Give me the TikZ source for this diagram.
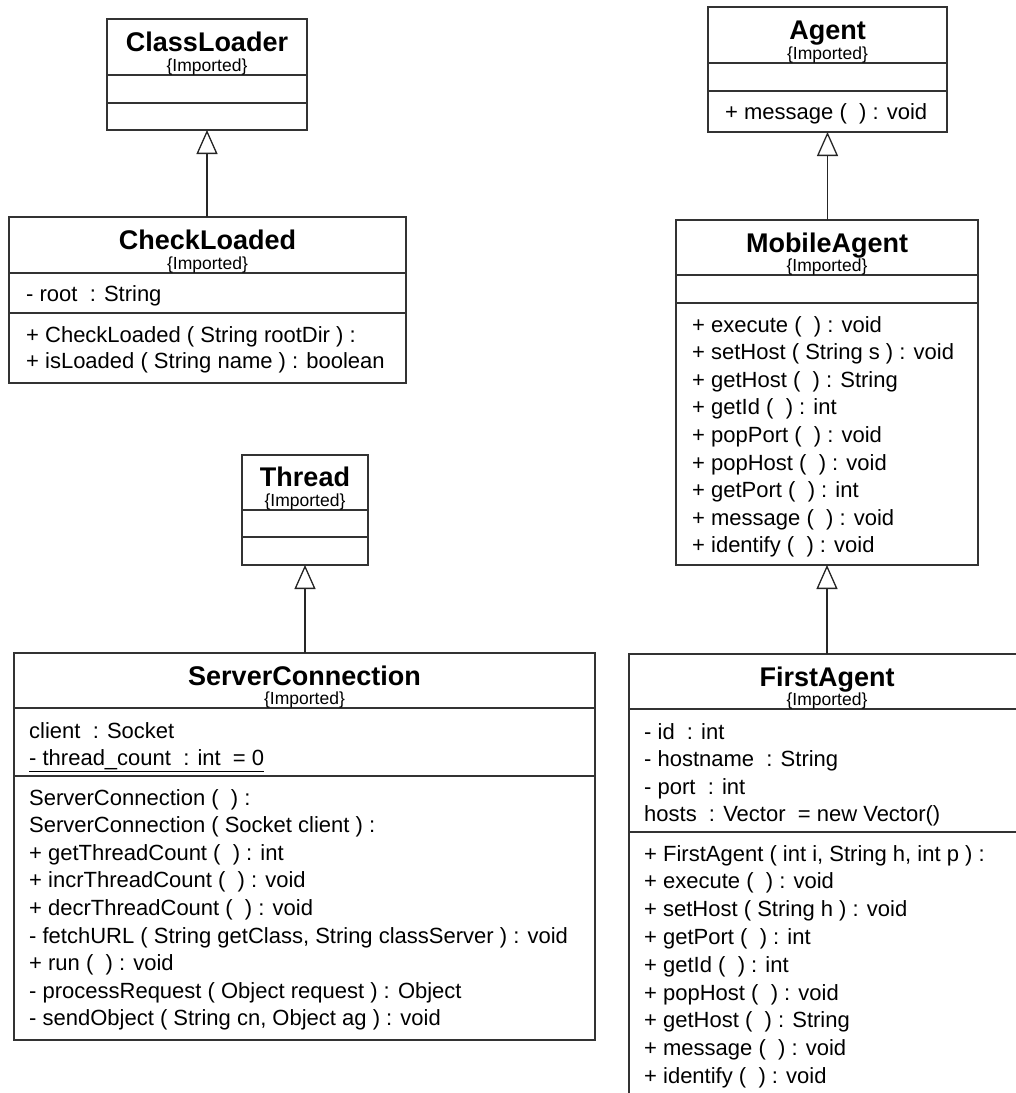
\documentclass[tikz,border=0pt]{standalone}
\usepackage{fontspec}
\setmainfont{Liberation Sans}
\usetikzlibrary{arrows.meta}
\tikzset{
  comp/.style={draw=black!80, line width=1.3pt, fill=white, inner sep=0pt, outer sep=0pt, anchor=north west},
  ttl/.style={font=\bfseries\fontsize{27}{30}\selectfont, inner sep=0pt, anchor=base},
  imp/.style={font=\fontsize{17.5}{19}\selectfont, inner sep=0pt, anchor=base},
  itm/.style={font=\fontsize{22}{26}\selectfont, inner sep=0pt, anchor=base west},
  gen/.style={draw=black!85, line width=1.3pt, -{Triangle[open, length=24pt, width=21pt, fill=white]}},
}
\begin{document}
\begin{tikzpicture}[x=1pt, y=-1pt]
\useasboundingbox (0,0) rectangle (1016,1093);
\fill[white] (0,0) rectangle (1016,1093);
\clip (0,0) rectangle (1016,1093);

% ---------- ClassLoader ----------
\node[comp, minimum width=200pt, minimum height=56pt] (cl-h) at (107,19) {};
\node[comp, minimum width=200pt, minimum height=28pt] (cl-a) at (cl-h.south west) {};
\node[comp, minimum width=200pt, minimum height=27pt] (cl-m) at (cl-a.south west) {};
\node[ttl] (cl-t) at ([yshift=-32pt]cl-h.north) {ClassLoader};
\node[imp] (cl-i) at ([yshift=4pt]cl-h.south) {\{Imported\}};

% ---------- CheckLoaded ----------
\node[comp, minimum width=397pt, minimum height=56pt] (ck-h) at (9,217) {};
\node[comp, minimum width=397pt, minimum height=40pt] (ck-a) at (ck-h.south west) {};
\node[comp, minimum width=397pt, minimum height=70pt] (ck-m) at (ck-a.south west) {};
\node[ttl] (ck-t) at ([yshift=-32pt]ck-h.north) {CheckLoaded};
\node[imp] (ck-i) at ([yshift=4pt]ck-h.south) {\{Imported\}};
\node[itm] (ck-a1) at ([xshift=17pt,yshift=-28pt]ck-a.north west) {- root\ \ : String};
\foreach \t [count=\i] in {{+ CheckLoaded ( String rootDir ) :},{+ isLoaded ( String name ) : boolean}}
  \node[itm] (ck-m\i) at ([xshift=17pt,yshift={-29-26*(\i-1)}]ck-m.north west) {\t};

% ---------- Thread ----------
\node[comp, minimum width=126pt, minimum height=55pt] (th-h) at (242,455) {};
\node[comp, minimum width=126pt, minimum height=27pt] (th-a) at (th-h.south west) {};
\node[comp, minimum width=126pt, minimum height=28pt] (th-m) at (th-a.south west) {};
\node[ttl] (th-t) at ([yshift=-31pt]th-h.north) {Thread};
\node[imp] (th-i) at ([yshift=4pt]th-h.south) {\{Imported\}};

% ---------- ServerConnection ----------
\node[comp, minimum width=581pt, minimum height=55pt] (sc-h) at (14,653) {};
\node[comp, minimum width=581pt, minimum height=68pt] (sc-a) at (sc-h.south west) {};
\node[comp, minimum width=581pt, minimum height=264pt] (sc-m) at (sc-a.south west) {};
\node[ttl] (sc-t) at ([yshift=-32pt]sc-h.north) {ServerConnection};
\node[imp] (sc-i) at ([yshift=4pt]sc-h.south) {\{Imported\}};
\node[itm] (sc-a1) at ([xshift=15pt,yshift=-30pt]sc-a.north west) {client\ \ : Socket};
\node[itm] (sc-a2) at ([xshift=15pt,yshift=-57.5pt]sc-a.north west) {\underline{- thread\_count\ \ : int\ \ = 0}};
\foreach \t [count=\i] in {
  {ServerConnection (\ \ ) :},
  {ServerConnection ( Socket client ) :},
  {+ getThreadCount (\ \ ) : int},
  {+ incrThreadCount (\ \ ) : void},
  {+ decrThreadCount (\ \ ) : void},
  {- fetchURL ( String getClass, String classServer ) : void},
  {+ run (\ \ ) : void},
  {- processRequest ( Object request ) : Object},
  {- sendObject ( String cn, Object ag ) : void}}
  \node[itm] (sc-m\i) at ([xshift=15pt,yshift={-29-27.6*(\i-1)}]sc-m.north west) {\t};

% ---------- Agent ----------
\node[comp, minimum width=239pt, minimum height=56pt] (ag-h) at (708,7) {};
\node[comp, minimum width=239pt, minimum height=28pt] (ag-a) at (ag-h.south west) {};
\node[comp, minimum width=239pt, minimum height=41pt] (ag-m) at (ag-a.south west) {};
\node[ttl] (ag-t) at ([yshift=-32pt]ag-h.north) {Agent};
\node[imp] (ag-i) at ([yshift=4pt]ag-h.south) {\{Imported\}};
\node[itm] (ag-m1) at ([xshift=17pt,yshift=-28pt]ag-m.north west) {+ message (\ \ ) : void};

% ---------- MobileAgent ----------
\node[comp, minimum width=302pt, minimum height=55pt] (ma-h) at (676,220) {};
\node[comp, minimum width=302pt, minimum height=28pt] (ma-a) at (ma-h.south west) {};
\node[comp, minimum width=302pt, minimum height=262pt] (ma-m) at (ma-a.south west) {};
\node[ttl] (ma-t) at ([yshift=-32pt]ma-h.north) {MobileAgent};
\node[imp] (ma-i) at ([yshift=4pt]ma-h.south) {\{Imported\}};
\foreach \t [count=\i] in {
  {+ execute (\ \ ) : void},
  {+ setHost ( String s ) : void},
  {+ getHost (\ \ ) : String},
  {+ getId (\ \ ) : int},
  {+ popPort (\ \ ) : void},
  {+ popHost (\ \ ) : void},
  {+ getPort (\ \ ) : int},
  {+ message (\ \ ) : void},
  {+ identify (\ \ ) : void}}
  \node[itm] (ma-m\i) at ([xshift=16pt,yshift={-29-27.6*(\i-1)}]ma-m.north west) {\t};

% ---------- FirstAgent ----------
\node[comp, minimum width=396pt, minimum height=55pt] (fa-h) at (629,654) {};
\node[comp, minimum width=396pt, minimum height=123pt] (fa-a) at (fa-h.south west) {};
\node[comp, minimum width=396pt, minimum height=300pt] (fa-m) at (fa-a.south west) {};
\node[ttl] (fa-t) at ([yshift=-32pt]fa-h.north) {FirstAgent};
\node[imp] (fa-i) at ([yshift=4pt]fa-h.south) {\{Imported\}};
\foreach \t [count=\i] in {
  {- id\ \ : int},
  {- hostname\ \ : String},
  {- port\ \ : int},
  {hosts\ \ : Vector\ \ = new Vector()}}
  \node[itm] (fa-a\i) at ([xshift=15pt,yshift={-30-27.5*(\i-1)}]fa-a.north west) {\t};
\foreach \t [count=\i] in {
  {+ FirstAgent ( int i, String h, int p ) :},
  {+ execute (\ \ ) : void},
  {+ setHost ( String h ) : void},
  {+ getPort (\ \ ) : int},
  {+ getId (\ \ ) : int},
  {+ popHost (\ \ ) : void},
  {+ getHost (\ \ ) : String},
  {+ message (\ \ ) : void},
  {+ identify (\ \ ) : void}}
  \node[itm] (fa-m\i) at ([xshift=15pt,yshift={-29-27.8*(\i-1)}]fa-m.north west) {\t};

% ---------- generalizations ----------
\draw[gen] (cl-m.south |- ck-h.north) -- (cl-m.south);
\draw[gen] (th-m.south |- sc-h.north) -- (th-m.south);
\draw[gen] (ag-m.south |- ma-h.north) -- (ag-m.south);
\draw[gen] (ma-m.south |- fa-h.north) -- (ma-m.south);
\end{tikzpicture}
\end{document}
